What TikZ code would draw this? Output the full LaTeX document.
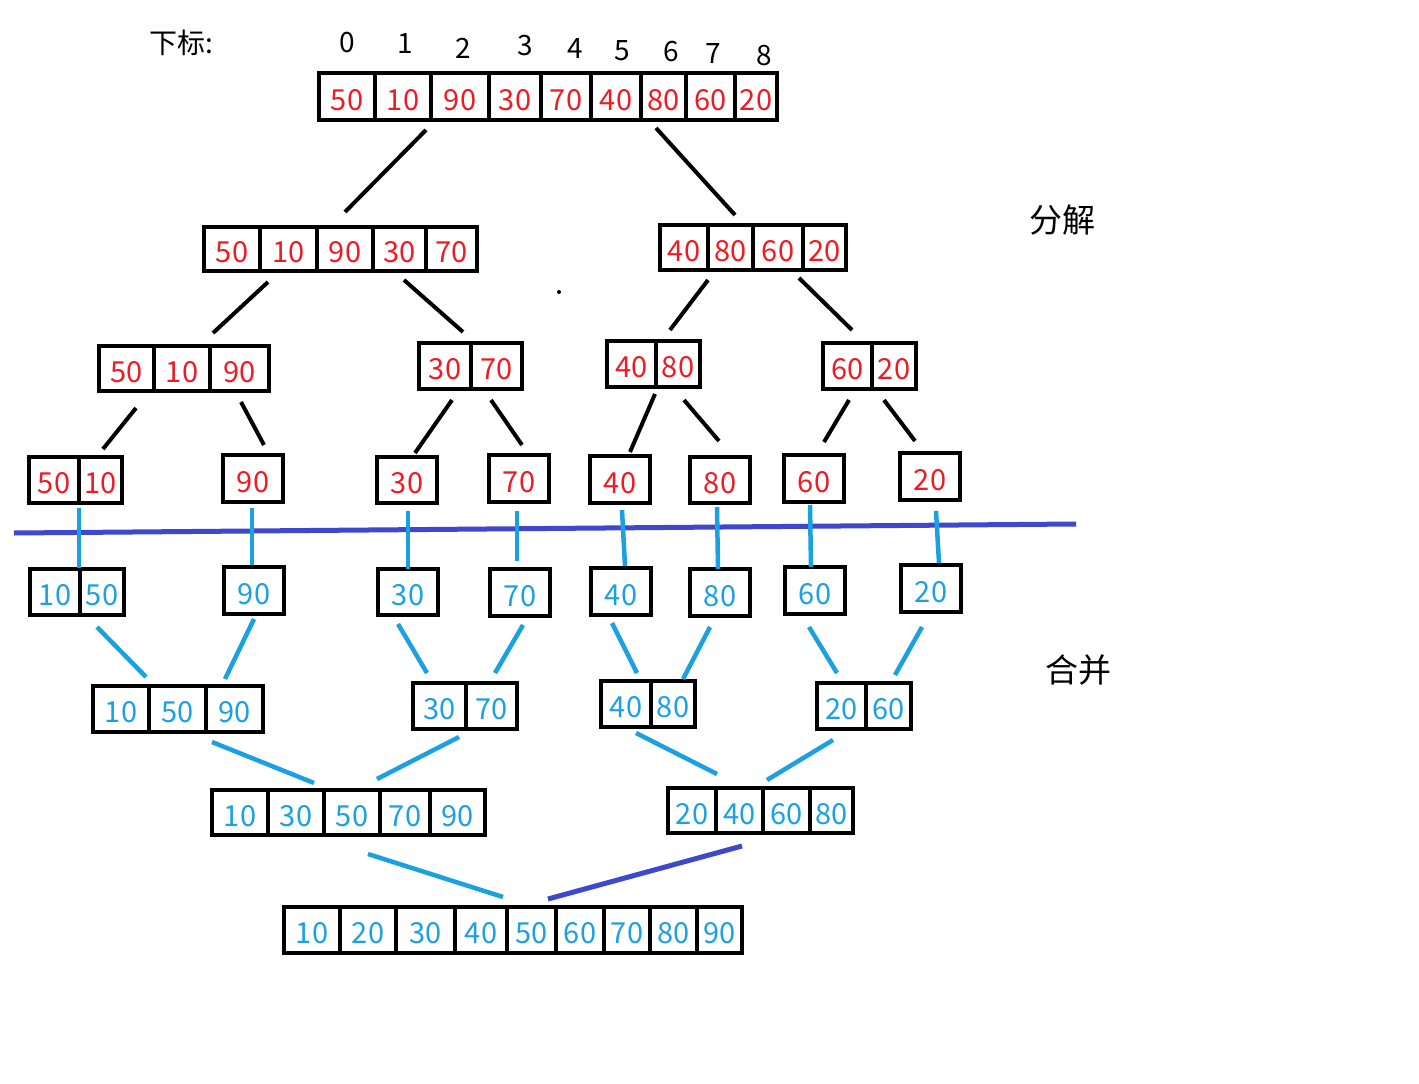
\documentclass[tikz,border=0pt]{standalone}
\usepackage{fontspec}
\setmainfont{Noto Sans CJK SC}
\definecolor{numred}{HTML}{ED1C24}
\definecolor{numblue}{HTML}{1BA1E2}
\definecolor{linecyan}{HTML}{1BA1E2}
\definecolor{lineindigo}{HTML}{3F48CC}
\newcommand\mkcell[7]{\node[#1,minimum width={(#4-#3)*1pt},minimum height={(#6-#5)*1pt}] (#2) at ({(#3+#4)/2},{(#5+#6)/2}) {#7};}
\newcommand\arr[5]{\foreach \xa/\xb/\vv [count=\ii from 0] in {#5} {\mkcell{#1}{#2\ii}{\xa}{\xb}{#3}{#4}{\vv}}}
\begin{document}
\begin{tikzpicture}[x=1pt,y=-1pt,
  arrcell/.style={draw=black,line width=4pt,inner sep=0pt,outer sep=0pt,text height=27pt,text depth=0pt,font=\fontsize{29}{30}\selectfont},
  dec/.style={arrcell,text=numred},
  mer/.style={arrcell,text=numblue},
  blk/.style={line width=4pt,black},
  cyn/.style={line width=4.5pt,linecyan},
  ind/.style={line width=5pt,lineindigo},
  idx/.style={font=\fontsize{28}{30}\selectfont,inner sep=0pt},
  title/.style={font=\fontsize{33}{36}\selectfont,inner sep=0pt}]
\fill[white] (0,0) rectangle (1419,1084);
\useasboundingbox (0,0) rectangle (1419,1084);

% labels
\node[idx] (lbl) at (181,43) {下标:};
\foreach \n/\px/\py in {0/347/43,1/405/44,2/463/48,3/525/46,4/575/49,5/622/51,6/671/52,7/713/54,8/764/56}
  \node[idx] (idx\n) at (\px,\py) {\n};
\node[title] (split) at (1062,220) {分解};
\node[title] (merge) at (1078,670) {合并};
\fill[black] (559,292) circle[radius=2];

% decomposition
\arr{dec}{t}{73}{120}{319/375/50,375/431/10,431/489/90,489/541/30,541/591/70,591/641/40,641/686/80,686/735/60,735/777/20}
\arr{dec}{a}{227}{271}{204/260/50,260/317/10,317/373/90,373/426/30,426/477/70}
\arr{dec}{b}{225}{270}{660/708/40,708/753/80,753/803/60,803/846/20}
\arr{dec}{c}{346}{391}{99/154/50,154/210/10,210/269/90}
\arr{dec}{d}{343}{389}{419/471/30,471/522/70}
\arr{dec}{e}{341}{387}{607/656/40,656/700/80}
\arr{dec}{f}{343}{389}{823/872/60,872/916/20}
\arr{dec}{g}{457}{503}{29/79/50,79/122/10}
\arr{dec}{h}{455}{502}{223/283/90}
\arr{dec}{i}{457}{503}{377/437/30}
\arr{dec}{j}{455}{502}{489/549/70}
\arr{dec}{k}{456}{503}{590/650/40}
\arr{dec}{l}{457}{503}{690/750/80}
\arr{dec}{m}{455}{502}{784/844/60}
\arr{dec}{n}{453}{500}{900/960/20}

% merge
\arr{mer}{ma}{569}{615}{30/80/10,80/124/50}
\arr{mer}{mb}{567}{614}{224/284/90}
\arr{mer}{mc}{569}{615}{378/438/30}
\arr{mer}{md}{569}{616}{490/550/70}
\arr{mer}{me}{568}{615}{591/651/40}
\arr{mer}{mf}{569}{616}{690/750/80}
\arr{mer}{mg}{567}{614}{785/845/60}
\arr{mer}{mh}{565}{612}{901/961/20}
\arr{mer}{p}{686}{732}{93/149/10,149/206/50,206/263/90}
\arr{mer}{q}{683}{729}{413/466/30,466/517/70}
\arr{mer}{r}{681}{727}{601/651/40,651/695/80}
\arr{mer}{s}{683}{729}{817/866/20,866/911/60}
\arr{mer}{u}{790}{835}{212/268/10,268/324/30,324/380/50,380/430/70,430/485/90}
\arr{mer}{v}{788}{833}{668/716/20,716/763/40,763/810/60,810/853/80}
\arr{mer}{w}{907}{953}{284/340/10,340/396/20,396/455/30,455/507/40,507/556/50,556/604/60,604/650/70,650/697/80,697/742/90}

% decomposition connectors
\draw[blk] ([shift={(23,10)}]t1.south) -- ([shift={(0,-15)}]a2.north);
\draw[blk] ([shift={(-7.5,8)}]t6.south) -- ([shift={(4.5,-10)}]b1.north);
\draw[blk] ([shift={(-20.5,11)}]a1.south) -- ([shift={(31,-13)}]c1.north);
\draw[blk] ([shift={(4.5,9)}]a3.south) -- ([shift={(18,-11)}]d0.north);
\draw[blk] ([shift={(-22.5,10)}]b1.south) -- ([shift={(-8,-11)}]e1.north);
\draw[blk] ([shift={(21,8)}]b2.south) -- ([shift={(4.5,-13)}]f0.north);
\draw[blk] ([shift={(9.5,17)}]c0.south) -- ([shift={(2.5,-8)}]g1.north);
\draw[blk] ([shift={(1.5,11)}]c2.south) -- ([shift={(11,-10)}]h0.north);
\draw[blk] ([shift={(7,11)}]d0.south) -- ([shift={(8,-4)}]i0.north);
\draw[blk] ([shift={(-5.5,11)}]d1.south) -- ([shift={(3,-10)}]j0.north);
\draw[blk] ([shift={(23.5,7)}]e0.south) -- ([shift={(10,-4)}]k0.north);
\draw[blk] ([shift={(6,13)}]e1.south) -- ([shift={(-1,-16)}]l0.north);
\draw[blk] ([shift={(1.5,11)}]f0.south) -- ([shift={(10,-13)}]m0.north);
\draw[blk] ([shift={(-10,11)}]f1.south) -- ([shift={(-15,-12)}]n0.north);

% dividing line
\coordinate (divL) at (14,533);
\coordinate (divR) at (1076,524);
\draw[ind] (divL) -- (divR);

% merge connectors
\draw[cyn] ([shift={(0,5)}]g0.south east) -- ([shift={(-1,-1)}]ma0.north east);
\draw[cyn] ([shift={(-1,6)}]h0.south) -- ([shift={(-2,-2)}]mb0.north);
\draw[cyn] ([shift={(1,8)}]i0.south) -- (mc0.north);
\draw[cyn] ([shift={(-2,9)}]j0.south) -- ([shift={(-3,-8)}]md0.north);
\draw[cyn] ([shift={(2,7)}]k0.south) -- ([shift={(4,-2)}]me0.north);
\draw[cyn] ([shift={(-3,4)}]l0.south) -- ([shift={(-2,0)}]mf0.north);
\draw[cyn] ([shift={(-4,3)}]m0.south) -- ([shift={(-4,0)}]mg0.north);
\draw[cyn] ([shift={(6,11)}]n0.south) -- ([shift={(8,-2)}]mh0.north);

\draw[cyn] ([shift={(-5,12)}]ma1.south) -- ([shift={(25,-9)}]p0.north);
\draw[cyn] ([shift={(0,5)}]mb0.south) -- ([shift={(-9.5,-7)}]p2.north);
\draw[cyn] ([shift={(-10,9)}]mc0.south) -- ([shift={(-12.5,-10)}]q0.north);
\draw[cyn] ([shift={(3,9)}]md0.south) -- ([shift={(3.5,-10)}]q1.north);
\draw[cyn] ([shift={(-9,8)}]me0.south) -- ([shift={(11,-8)}]r0.north);
\draw[cyn] ([shift={(-10,11)}]mf0.south) -- ([shift={(10,-2)}]r1.north);
\draw[cyn] ([shift={(-6,13)}]mg0.south) -- ([shift={(-4.5,-10)}]s0.north);
\draw[cyn] ([shift={(-9,15)}]mh0.south) -- ([shift={(6.5,-8)}]s1.north);

\draw[cyn] ([shift={(-22.5,10)}]p2.south) -- ([shift={(18,-7)}]u1.north);
\draw[cyn] ([shift={(19.5,8)}]q0.south) -- ([shift={(25,-11)}]u2.north);
\draw[cyn] ([shift={(10,6)}]r0.south) -- ([shift={(-22.5,-14)}]v1.north);
\draw[cyn] ([shift={(-8.5,11)}]s0.south) -- ([shift={(-19.5,-8)}]v2.north);

\draw[cyn] ([shift={(16,19)}]u2.south) -- ([shift={(-28.5,-10)}]w4.north);
\draw[ind] ([shift={(2.5,13)}]v1.south) -- ([shift={(16.5,-8)}]w4.north);
\end{tikzpicture}
\end{document}
